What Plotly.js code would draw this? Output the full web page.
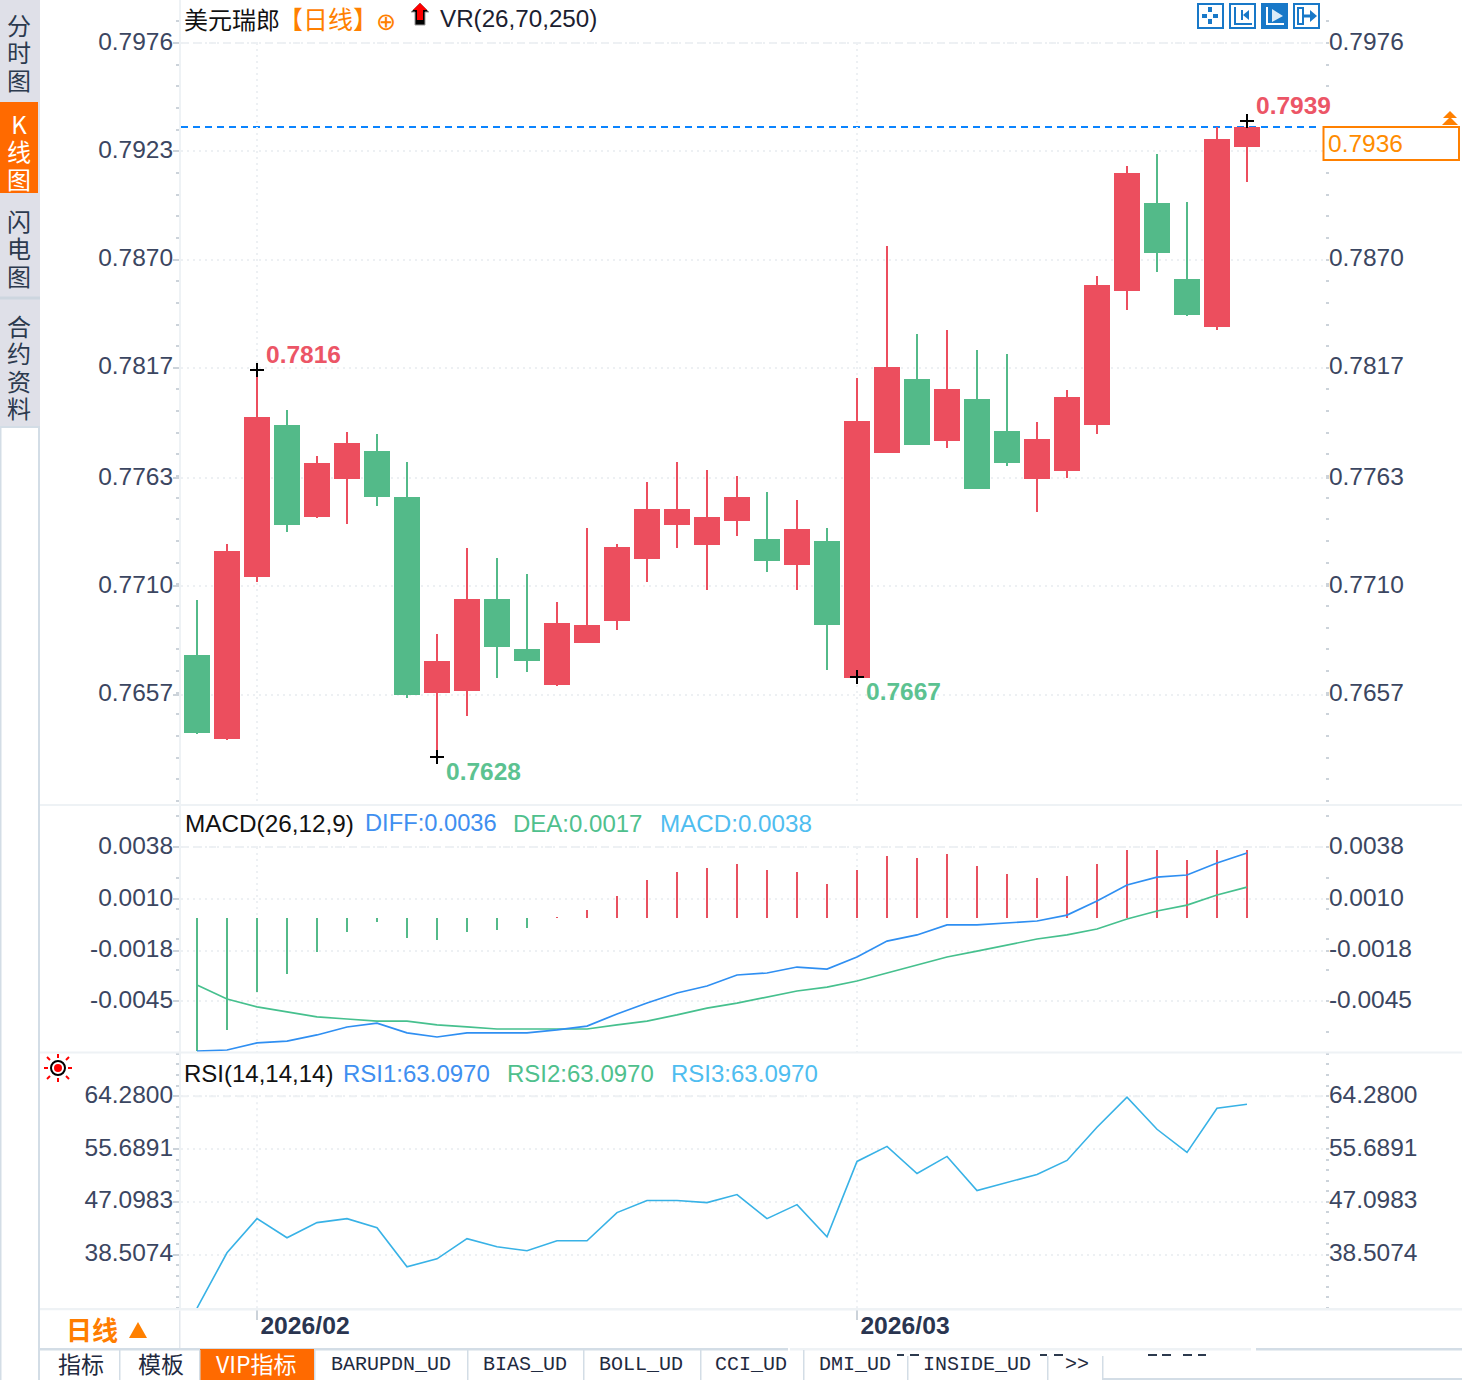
<!DOCTYPE html>
<html><head><meta charset="utf-8">
<script src="https://cdn.plot.ly/plotly-3.0.1.min.js"></script>
<style>html,body{margin:0;padding:0;background:#fff}#c{width:1462px;height:1380px}</style></head>
<body><div id="c"></div>
<script>
const idx=[0,1,2,3,4,5,6,7,8,9,10,11,12,13,14,15,16,17,18,19,20,21,22,23,24,25,26,27,28,29,30,31,32,33,34,35];
const open=[.76759,.76358,.77151,.77885,.77445,.77631,.77758,.77533,.76583,.76593,.77034,.76789,.76622,.76828,.76936,.77239,.77406,.77308,.77425,.77327,.77210,.77317,.76657,.77758,.78110,.77817,.78012,.77856,.77631,.77670,.77895,.78551,.78972,.78600,.78375,.79256];
const close=[.76387,.77268,.77924,.77406,.77699,.77797,.77543,.76573,.76730,.77034,.76808,.76740,.76916,.76906,.77288,.77474,.77474,.77435,.77533,.77229,.77376,.76916,.77905,.78169,.77797,.78061,.77582,.77709,.77817,.78022,.78571,.79119,.78737,.78433,.79285,.79344];
const high=[.77034,.77308,.78159,.77964,.77738,.77856,.77846,.77709,.76867,.77288,.77239,.77161,.77024,.77386,.77308,.77611,.77709,.77670,.77640,.77562,.77523,.77386,.78120,.78766,.78336,.78355,.78257,.78238,.77905,.78061,.78620,.79158,.79217,.78982,.79349,.79378];
const low=[.76378,.76348,.77122,.77366,.77435,.77406,.77494,.76554,.76265,.76466,.76652,.76681,.76613,.76828,.76887,.77122,.77288,.77082,.77347,.77171,.77082,.76691,.76652,.77758,.77797,.77778,.77577,.77689,.77464,.77631,.77846,.78453,.78639,.78424,.78355,.79080];
const macdHist=[-.00720,-.00606,-.00402,-.00305,-.00186,-.00078,-.00024,-.00110,-.00121,-.00078,-.00067,-.00057,.00003,.00040,.00116,.00202,.00245,.00267,.00288,.00256,.00245,.00181,.00256,.00332,.00321,.00342,.00278,.00234,.00213,.00224,.00288,.00364,.00364,.00310,.00364,.00364];
const diff=[-.00720,-.00714,-.00676,-.00666,-.00633,-.00590,-.00569,-.00622,-.00644,-.00622,-.00622,-.00622,-.00606,-.00585,-.00520,-.00461,-.00407,-.00369,-.00310,-.00299,-.00267,-.00278,-.00213,-.00127,-.00094,-.00040,-.00040,-.00030,-.00019,.00013,.00089,.00175,.00218,.00229,.00294,.00348];
const dea=[-.00364,-.00439,-.00482,-.00509,-.00536,-.00547,-.00558,-.00558,-.00579,-.00590,-.00601,-.00601,-.00601,-.00601,-.00579,-.00558,-.00525,-.00488,-.00461,-.00428,-.00396,-.00375,-.00342,-.00299,-.00256,-.00213,-.00181,-.00148,-.00116,-.00094,-.00062,-.00008,.00035,.00067,.00121,.00164];
const rsi=[29.86,38.83,44.38,41.28,43.73,44.38,42.91,36.55,37.85,41.12,39.81,39.16,40.79,40.79,45.36,47.32,47.32,46.99,48.29,44.38,46.66,41.44,53.68,56.12,51.72,54.49,48.95,50.25,51.56,53.84,59.22,64.12,58.90,55.15,62.32,62.98];
const priceTicks=[.7976,.7923,.7870,.7817,.7763,.7710,.7657];
const priceLabels=['0.7976','0.7923','0.7870','0.7817','0.7763','0.7710','0.7657'];
const rightPriceTicks=[.7976,.7870,.7817,.7763,.7710,.7657];
const rightPriceLabels=['0.7976','0.7870','0.7817','0.7763','0.7710','0.7657'];
const macdTicks=[.0038,.0010,-.0018,-.0045];
const macdLabels=['0.0038','0.0010','-0.0018','-0.0045'];
const rsiTicks=[64.28,55.6891,47.0983,38.5074];
const rsiLabels=['64.2800','55.6891','47.0983','38.5074'];
const monthIdx=[2,22];
const monthLabels=['2026/02','2026/03'];
const markIdx=[2,8,22,35];
const markPrice=[.78159,.76265,.76657,.79378];
const markText=['0.7816','0.7628','0.7667','0.7939'];
const lastPrice=.79349;

const W=1462,H=1380;
const RED='#EC4E5E',GREEN='#53BA89',ORANGE='#FF8000',SLATE='#3B4661',BLUE='#2F8FF2',LBLUE='#38B2E6';
const SANS='"Liberation Sans",Arial,sans-serif',CJK='"Noto Sans CJK SC",sans-serif',MONO='"Liberation Mono",monospace';
const px=x=>x/W, py=y=>1-y/H;
const r1=[.79760-(805-43)*.00004895,.79760+43*.00004895];
const r2=[.0038-205*5.3897e-5,.0038+42*5.3897e-5];
const r3=[64.28-212/6.1306,64.28+44/6.1306];
const ann=[],shp=[];
function T(text,x,y,color,size,family,anchor,bold){
  ann.push({text:bold?'<b>'+text+'</b>':text,xref:'paper',yref:'paper',x:px(x),y:py(y),xanchor:anchor||'left',yanchor:'middle',showarrow:false,borderpad:0,
    font:{color:color,size:size,family:family||SANS}});
}
function R(x0,y0,x1,y1,fill,line,lw,layer){
  shp.push({type:'rect',xref:'paper',yref:'paper',x0:px(x0),x1:px(x1),y0:py(y0),y1:py(y1),fillcolor:fill||'rgba(0,0,0,0)',line:{color:line||'rgba(0,0,0,0)',width:lw||0},layer:layer||'above'});
}
function P(points,fill,line,lw){
  const d=points.map((p,i)=>(i?'L':'M')+px(p[0])+','+py(p[1])).join(' ')+(fill?' Z':'');
  shp.push({type:'path',xref:'paper',yref:'paper',path:d,fillcolor:fill||'rgba(0,0,0,0)',line:{color:line||'rgba(0,0,0,0)',width:lw||0},layer:'above'});
}
// sidebar
const SIDE='#DFE0E8';
R(0,0,40,426,SIDE); R(0,102,38,193,'#FF6A00'); R(0,296.5,40,299.5,'#CDD6DF');
R(0,426,40,428,'#D3DDE6'); R(38,428,40,1380,'#D3DDE6'); R(0,428,1.5,1380,'#D3DDE6');
function V(chars,x,y,color){
  T(chars.map(c=>'<span style="font-size:24px">'+c+'</span>').join('<br>'),x,y,color,21,CJK,'center');
}
V(['分','时','图'],19,52,'#2C3A4E');
V(['K','线','图'],19,150.5,'#FFFFFF');
V(['闪','电','图'],19,248.5,'#2C3A4E');
V(['合','约','资','料'],19,366.5,'#2C3A4E');
// separators
R(40,804,W,806,'#EEF2F5'); R(40,1051.5,W,1053.5,'#EEF2F5'); R(40,1308,W,1310.5,'#EEF2F5');
// titles
T('美元瑞郎',183,18,'#111',24,CJK);
T('【日线】',277,18,ORANGE,25,CJK);
T('⊕',375,22,ORANGE,24,'"DejaVu Sans"');
P([[420,3],[429,12],[425,12],[425,25],[415,25],[415,12],[411,12]],'#000','#999',1);
P([[420,3],[427,10],[423,10],[423,20],[417,20],[417,10],[413,10]],'#FF0000');
T('VR(26,70,250)',439,19,'#1B2030',24.2);
T('MACD(26,12,9)',184,823,'#111',24.3);
T('DIFF:0.0036',364,823,'#3F8FF0',23.7);
T('DEA:0.0017',512,823,'#4FC08D',24);
T('MACD:0.0038',659,823,'#4FBDF0',24.2);
T('RSI(14,14,14)',183,1073,'#111',24);
T('RSI1:63.0970',342,1073,'#3F8FF0',24);
T('RSI2:63.0970',506,1073,'#4FC08D',24);
T('RSI3:63.0970',670,1073,'#4FBDF0',24);
// RSI flash icon
shp.push({type:'circle',xref:'paper',yref:'paper',x0:px(51),x1:px(65),y0:py(1075),y1:py(1061),line:{color:'#000',width:2},fillcolor:'#fff',layer:'above'});
shp.push({type:'circle',xref:'paper',yref:'paper',x0:px(54),x1:px(62),y0:py(1072),y1:py(1064),line:{width:0},fillcolor:'#F00',layer:'above'});
[[[58,1054],[58,1058]],[[58,1078],[58,1082]],[[44,1068],[48,1068]],[[68,1068],[72,1068]],[[47,1057],[50,1060]],[[66,1076],[69,1079]],[[69,1057],[66,1060]],[[50,1076],[47,1079]]].forEach(s=>P(s,null,'#F00',2));
// toolbar icons
const TB='#1878C8';
[1197,1229,1261,1293].forEach((x,i)=>R(x+1,4,x+26,28,i==2?TB:'#fff',TB,2));
[[1202,16,1207,16],[1213,16,1218,16],[1210,7,1210,12],[1210,19,1210,24]].forEach(a=>P([[a[0],a[1]],[a[2],a[3]]],null,TB,4));
P([[1235,7],[1235,24],[1252,24]],null,TB,2); P([[1249,10],[1243,15],[1249,20]],TB); P([[1242,10],[1242,20]],null,TB,2);
P([[1267,7],[1267,24],[1284,24]],null,'#fff',2); P([[1272,9],[1283,16],[1272,22]],'#DCEBF7');
R(1298,8,1303,24,'#fff',TB,2); P([[1304,16],[1311,16]],null,TB,3); P([[1310,10],[1317,16],[1310,22]],TB);
// current price box
R(1323.5,127,1459,160,'#fff',ORANGE,2);
T('0.7936',1327,143,'#FF8C00',24.5);
P([[1450,111],[1457,118],[1443,118]],ORANGE); P([[1450,117],[1458,125],[1442,125]],ORANGE);
// bottom bar
R(40,1310.5,180,1348,'#fff'); R(179,1310.5,180.5,1349,'#E3E8ED');
T('日线',65,1328,'#FF7D00',26,CJK,'left',true);
P([[138,1322],[147,1338],[129,1338]],'#FF8000');
R(40,1348,788,1350.5,'#D3DDE6'); R(790,1348,1251,1350.5,'#EEF2F5'); R(1256,1348,W,1350.5,'#D3DDE6');
R(200,1349,314,1380,'#FF6A00');
[119,199,314,467,583,700,803].forEach(x=>R(x,1350,x+1.5,1380,'#D3DDE6'));
[907,1047].forEach(x=>R(x,1356,x+1.5,1380,'#D3DDE6'));
R(1102,1356,1103.5,1380,'#D3DDE6'); R(1102,1378,W,1380,'#D3DDE6');
[[897,904],[910,919],[1040,1047],[1054,1063],[1148,1157],[1162,1171],[1183,1192],[1198,1206]].forEach(a=>R(a[0],1354,a[1],1356,'#2C3A4E'));
const TABC='#1F2A40';
T('指标',57,1362.5,TABC,23,CJK); T('模板',137,1362.5,TABC,23,CJK);
T('VIP指标',215,1362.5,'#fff',23,CJK);
[['BARUPDN_UD',330],['BIAS_UD',482],['BOLL_UD',598],['CCI_UD',714],['DMI_UD',818],['INSIDE_UD',922],['>>',1064]].forEach(a=>T(a[0],a[1],1364,TABC,20,MONO));
// in-plot marks
[0,1,2,3].forEach(i=>{
  const up=i==0||i==3;
  ann.push({text:'<b>'+markText[i]+'</b>',xref:'x',yref:'y',x:markIdx[i],y:markPrice[i],xanchor:'left',yanchor:'middle',showarrow:false,borderpad:0,
    xshift:8,yshift:up?16:-15,font:{color:up?'#EC5566':'#5CC291',size:24.5,family:SANS}});
});
// last price line, top dashed grid, vertical month lines
shp.push({type:'line',xref:'paper',yref:'y',x0:px(181),x1:px(1320),y0:lastPrice,y1:lastPrice,line:{color:'#0A84FF',width:2,dash:'7px,5px'},layer:'below'});
[['y',priceTicks[0]],['y2',macdTicks[0]],['y3',rsiTicks[0]]].forEach(a=>{
  shp.push({type:'line',xref:'paper',yref:a[0],x0:px(181),x1:px(1325),y0:a[1],y1:a[1],line:{color:'#EEF1F4',width:2,dash:'7px,7px'},layer:'below'});
});
[['x','y',priceTicks[0],r1[0]],['x2','y2',macdTicks[0],r2[0]],['x3','y3',rsiTicks[0],r3[0]]].forEach(a=>{
  monthIdx.forEach(m=>shp.push({type:'line',xref:a[0],yref:a[1],x0:m,x1:m,y0:a[2],y1:a[3],line:{color:'#EDF0F3',width:2,dash:'2px,4px'},layer:'below'}));
});

const traces=[
 {type:'candlestick',x:idx,open:open,high:high,low:low,close:close,xaxis:'x',yaxis:'y',whiskerwidth:0,hoverinfo:'skip',
  increasing:{line:{color:RED,width:2},fillcolor:RED},decreasing:{line:{color:GREEN,width:2},fillcolor:GREEN}},
 {type:'scatter',mode:'markers',x:markIdx,y:markPrice,xaxis:'x',yaxis:'y',marker:{symbol:'cross-thin',size:10,line:{color:'#000',width:2}},hoverinfo:'skip'},
 {type:'bar',x:idx,y:macdHist,xaxis:'x2',yaxis:'y2',width:0.0667,marker:{color:macdHist.map(v=>v>0?'#E8505F':GREEN),line:{width:0}},hoverinfo:'skip'},
 {type:'scatter',mode:'lines',x:idx,y:dea,xaxis:'x2',yaxis:'y2',line:{color:'#46C08E',width:1.7},hoverinfo:'skip'},
 {type:'scatter',mode:'lines',x:idx,y:diff,xaxis:'x2',yaxis:'y2',line:{color:BLUE,width:1.7},hoverinfo:'skip'},
 {type:'scatter',mode:'lines',x:idx,y:rsi,xaxis:'x3',yaxis:'y3',line:{color:LBLUE,width:1.6},hoverinfo:'skip'},
 {type:'scatter',mode:'lines',x:[0,1],y:priceTicks.slice(0,2),xaxis:'x',yaxis:'y4',opacity:0,hoverinfo:'skip'},
 {type:'scatter',mode:'lines',x:[0,1],y:macdTicks.slice(0,2),xaxis:'x2',yaxis:'y5',opacity:0,hoverinfo:'skip'},
 {type:'scatter',mode:'lines',x:[0,1],y:rsiTicks.slice(0,2),xaxis:'x3',yaxis:'y6',opacity:0,hoverinfo:'skip'}
];
const xr=[-0.5333,37.6];
const xdom=[px(181),px(1325)];
function xa(anchor,showLabels){
  return {domain:xdom,range:xr,anchor:anchor,tickmode:'array',tickvals:monthIdx,ticktext:showLabels?monthLabels:['',''],showticklabels:!!showLabels,
    showgrid:false,zeroline:false,showline:false,
    ticks:showLabels?'outside':'',ticklen:10,tickwidth:2,tickcolor:'#CCD3DA',ticklabelshift:48,ticklabelstandoff:-16,
    tickfont:{family:SANS,size:24.7,color:'#2A3550',weight:'bold'},rangeslider:{visible:false},fixedrange:true};
}
function ya(dom,range,vals,labels,tick0,dtick,extra){
  return Object.assign({domain:dom,range:range,tickmode:'array',tickvals:vals,ticktext:labels,
    showgrid:true,griddash:'2px,4px',gridcolor:'#EDF0F3',gridwidth:2,zeroline:false,showline:true,linecolor:'#EEF2F5',linewidth:2,
    ticks:'outside',ticklen:6,tickwidth:2,tickcolor:'#CCD3DA',tickfont:{family:SANS,size:24.5,color:SLATE},
    ticklabelstandoff:-5,ticklabelshift:-2,
    minor:{tickmode:'linear',tick0:tick0,dtick:dtick,ticks:'outside',ticklen:3,tickwidth:2,tickcolor:'#CCD3DA',showgrid:false},fixedrange:true},extra);
}
const RIGHT={side:'right',showgrid:false,showline:false,ticklen:3,ticklabelstandoff:-5};
const d1=[py(805),1], d2=[py(1052),py(805)], d3=[py(1309),py(1052)];
const layout={width:W,height:H,margin:{l:0,r:0,t:0,b:0},paper_bgcolor:'#fff',plot_bgcolor:'#fff',showlegend:false,
 boxgap:0.2,boxgroupgap:0,bargap:0,hovermode:false,dragmode:false,
 xaxis:xa('y',false),xaxis2:xa('y2',false),xaxis3:xa('y3',true),
 yaxis:ya(d1,r1,priceTicks,priceLabels,.7976,.00106,{anchor:'x'}),
 yaxis2:ya(d2,r2,macdTicks,macdLabels,.0038,.00166,{anchor:'x2'}),
 yaxis3:ya(d3,r3,rsiTicks,rsiLabels,64.28,1.71818,{anchor:'x3'}),
 yaxis4:ya(d1,r1,rightPriceTicks,rightPriceLabels,.7976,.00106,Object.assign({anchor:'x',overlaying:'y'},RIGHT)),
 yaxis5:ya(d2,r2,macdTicks,macdLabels,.0038,.00166,Object.assign({anchor:'x2',overlaying:'y2'},RIGHT)),
 yaxis6:ya(d3,r3,rsiTicks,rsiLabels,64.28,1.71818,Object.assign({anchor:'x3',overlaying:'y3'},RIGHT)),
 annotations:ann,shapes:shp};
Plotly.newPlot('c',traces,layout,{displayModeBar:false,staticPlot:true,responsive:false});
</script></body></html>
